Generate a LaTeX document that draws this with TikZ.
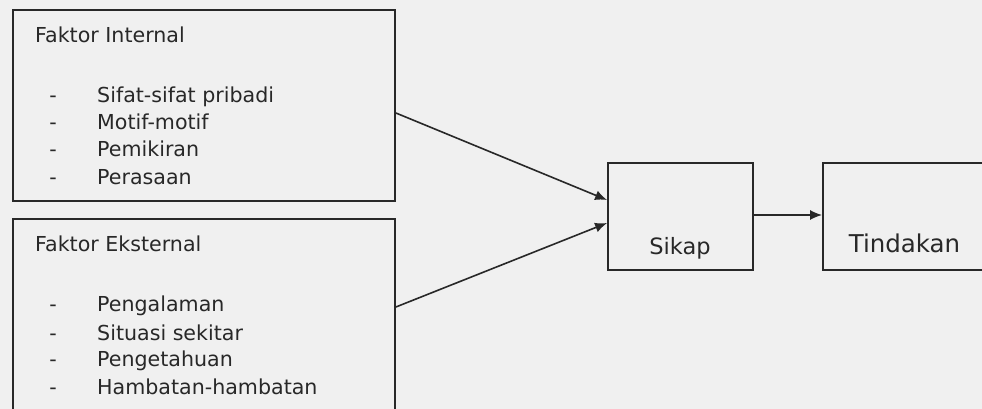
\documentclass[tikz,border=0pt]{standalone}
\usepackage{fontspec}
\setmainfont{DejaVu Sans}
\usetikzlibrary{arrows.meta}
\definecolor{bg}{RGB}{240,240,240}
\definecolor{ink}{RGB}{40,40,40}
\tikzset{
  box/.style={draw=ink, line width=1.8pt, rectangle, inner sep=0pt},
  lbl/.style={anchor=base west, inner sep=0pt, text=ink, font=\fontsize{20.6}{24}\selectfont},
  dsh/.style={anchor=base, inner sep=0pt, text=ink, font=\fontsize{20.6}{24}\selectfont},
  arr/.style={draw=ink, line width=1.6pt, -{Latex[length=12pt,width=10pt]}},
}
\begin{document}
\begin{tikzpicture}[x=1pt,y=1pt]
\fill[bg] (0,0) rectangle (982,409);
\useasboundingbox (0,0) rectangle (982,409);
\clip (0,0) rectangle (982,409);
% boxes
\node[box, minimum width=382pt, minimum height=191pt] (int) at (204,303.5) {};
\node[box, minimum width=382pt, minimum height=201pt] (ext) at (204,89.5) {};
\node[box, minimum width=145pt, minimum height=107pt] (sikap) at (680.5,192.5) {};
\node[box, minimum width=177pt, minimum height=107pt] (tind) at (911.5,192.5) {};
% internal text
\node[lbl] (fi) at (35,366) {Faktor Internal};
\node[dsh] (d1) at (53,306) {-};
\node[lbl] (i1) at (97,306) {Sifat-sifat pribadi};
\node[dsh] (d2) at (53,279) {-};
\node[lbl] (i2) at (97,279) {Motif-motif};
\node[dsh] (d3) at (53,252) {-};
\node[lbl] (i3) at (97,252) {Pemikiran};
\node[dsh] (d4) at (53,224) {-};
\node[lbl] (i4) at (97,224) {Perasaan};
% external text
\node[lbl] (fe) at (35,157) {Faktor Eksternal};
\node[dsh] (e1d) at (53,97) {-};
\node[lbl] (e1) at (97,97) {Pengalaman};
\node[dsh] (e2d) at (53,68) {-};
\node[lbl] (e2) at (97,68) {Situasi sekitar};
\node[dsh] (e3d) at (53,42) {-};
\node[lbl] (e3) at (97,42) {Pengetahuan};
\node[dsh] (e4d) at (53,14) {-};
\node[lbl] (e4) at (97,14) {Hambatan-hambatan};
% result text
\node[anchor=base, inner sep=0pt, text=ink, font=\fontsize{22.5}{26}\selectfont] (st) at (680,154) {Sikap};
\node[anchor=base, inner sep=0pt, text=ink, font=\fontsize{24.5}{28}\selectfont] (tt) at (904.5,156) {Tindakan};
% arrows
\draw[arr] ([yshift=-7.5pt]int.east) -- ([yshift=16.5pt]sikap.west);
\draw[arr] ([yshift=12.5pt]ext.east) -- ([yshift=-6.5pt]sikap.west);
\draw[arr] ([yshift=1.5pt]sikap.east) -- ([yshift=1.5pt]tind.west);
\end{tikzpicture}
\end{document}
